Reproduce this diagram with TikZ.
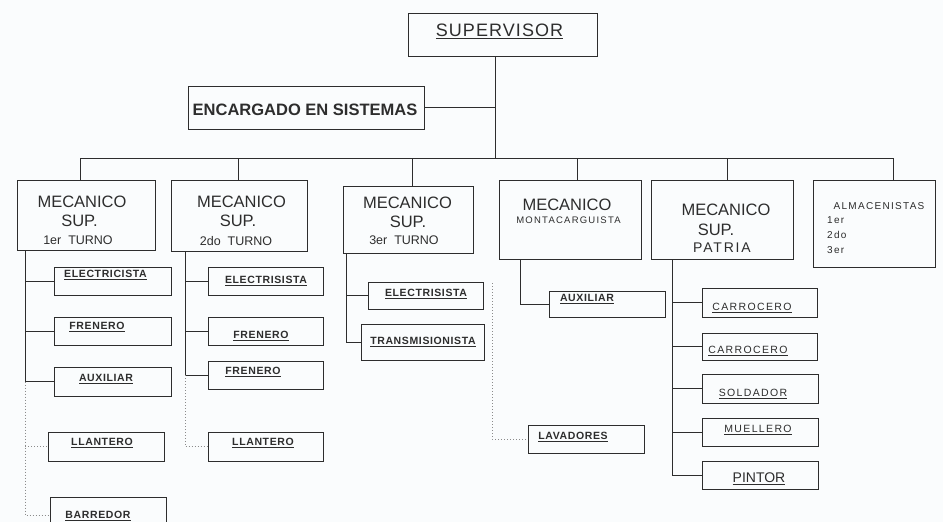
\documentclass[tikz,border=0pt]{standalone}
\usepackage{fontspec}
\setmainfont{Liberation Sans}
\newfontfamily\spfont[LetterSpace=6]{Liberation Sans}
\newfontfamily\widefont[LetterSpace=13]{Liberation Sans}
\newcommand\ulx[1]{\leavevmode\vtop{\hbox{#1}\kern1.6pt\hrule height 0.9pt}}
\definecolor{bg}{RGB}{250,252,253}
\definecolor{ink}{RGB}{45,45,45}
\begin{document}
\begin{tikzpicture}[x=1pt,y=-1pt,
  box/.style={draw=ink, line width=0.9pt, inner sep=0pt, rectangle},
  conn/.style={draw=ink, line width=0.8pt},
  dots/.style={draw=ink!55, line width=0.8pt, dash pattern=on 1pt off 2pt},
  txt/.style={anchor=base, inner sep=0pt, text=ink},
  big/.style={txt, font=\fontsize{16.5}{19}\selectfont},
  lbl/.style={txt, font=\spfont\bfseries\fontsize{10.5}{12}\selectfont},
  lblr/.style={txt, font=\widefont\fontsize{10.5}{12}\selectfont}]
\useasboundingbox (0,0) rectangle (943,522);
\clip (0,0) rectangle (943,522);
\fill[bg] (0,0) rectangle (943,522);

% boxes
\node[box, minimum width=189pt, minimum height=43pt] (sup) at (502.5,34.5) {};
\node[box, minimum width=236pt, minimum height=43pt] (enc) at (306,107.5) {};
\node[box, minimum width=138pt, minimum height=70pt] (m1) at (86,215) {};
\node[box, minimum width=136pt, minimum height=71pt] (m2) at (239,215.5) {};
\node[box, minimum width=130pt, minimum height=67pt] (m3) at (408,219.5) {};
\node[box, minimum width=142pt, minimum height=79pt] (m4) at (570,219.5) {};
\node[box, minimum width=142pt, minimum height=79pt] (m5) at (722,219.5) {};
\node[box, minimum width=122pt, minimum height=87pt] (m6) at (874,223.5) {};
\node[box, minimum width=117pt, minimum height=28pt] (e1) at (112.5,281) {};
\node[box, minimum width=117pt, minimum height=28pt] (f1) at (112.5,331) {};
\node[box, minimum width=117pt, minimum height=29pt] (a1) at (112.5,381.5) {};
\node[box, minimum width=116pt, minimum height=29pt] (l1) at (106,446.5) {};
\node[box, minimum width=116pt, minimum height=36pt] (b1) at (108,515) {};
\node[box, minimum width=115pt, minimum height=28pt] (e2) at (265.5,281) {};
\node[box, minimum width=115pt, minimum height=28pt] (f2) at (265.5,331) {};
\node[box, minimum width=115pt, minimum height=28pt] (g2) at (265.5,375) {};
\node[box, minimum width=115pt, minimum height=29pt] (l2) at (265.5,446.5) {};
\node[box, minimum width=115pt, minimum height=27pt] (e3) at (425.5,295.5) {};
\node[box, minimum width=123pt, minimum height=36pt] (t3) at (422.5,342) {};
\node[box, minimum width=116pt, minimum height=26pt] (a4) at (607,304) {};
\node[box, minimum width=116pt, minimum height=28pt] (v4) at (586,439) {};
\node[box, minimum width=115pt, minimum height=29pt] (c5a) at (759.5,302.5) {};
\node[box, minimum width=115pt, minimum height=27pt] (c5b) at (759.5,346.5) {};
\node[box, minimum width=116pt, minimum height=29pt] (s5) at (760,388.5) {};
\node[box, minimum width=116pt, minimum height=28pt] (mu5) at (760,432) {};
\node[box, minimum width=116pt, minimum height=28pt] (p5) at (760,475) {};

% texts
\node[txt, font=\spfont\fontsize{18}{20}\selectfont] (supt) at (499.5,36.5) {\ulx{SUPERVISOR}};
\node[txt, font=\bfseries\fontsize{16.5}{19}\selectfont] (enct) at (305,115) {ENCARGADO EN SISTEMAS};
\node[big] (m1a) at (82,207) {MECANICO};
\node[big] (m1b) at (79.5,226) {SUP.};
\node[txt, font=\fontsize{12.5}{14}\selectfont] (m1c) at (78,244) {1er\ \ TURNO};
\node[big] (m2a) at (241.5,207) {MECANICO};
\node[big] (m2b) at (238,226) {SUP.};
\node[txt, font=\fontsize{12.5}{14}\selectfont] (m2c) at (236,245) {2do\ \ TURNO};
\node[big] (m3a) at (407.5,208) {MECANICO};
\node[big] (m3b) at (408,227) {SUP.};
\node[txt, font=\fontsize{12.5}{14}\selectfont] (m3c) at (404,244) {3er\ \ TURNO};
\node[big] (m4a) at (567,210) {MECANICO};
\node[txt, font=\widefont\fontsize{9.5}{11}\selectfont] (m4b) at (568.5,223) {MONTACARGUISTA};
\node[big] (m5a) at (726,215) {MECANICO};
\node[big] (m5b) at (716,235) {SUP.};
\node[txt, font=\widefont\fontsize{14}{16}\selectfont] (m5c) at (722,252) {PATRIA};
\node[txt, font=\widefont\fontsize{10}{12}\selectfont] (m6a) at (879,209) {ALMACENISTAS};
\node[txt, anchor=base west, font=\widefont\fontsize{10}{12}\selectfont] (m6b) at (827,223) {1er};
\node[txt, anchor=base west, font=\widefont\fontsize{10}{12}\selectfont] (m6c) at (827,238) {2do};
\node[txt, anchor=base west, font=\widefont\fontsize{10}{12}\selectfont] (m6d) at (827,253) {3er};

\node[lbl] (e1t) at (105.5,277) {\ulx{ELECTRICISTA}};
\node[lbl] (f1t) at (97,329) {\ulx{FRENERO}};
\node[lbl] (a1t) at (106,381) {\ulx{AUXILIAR}};
\node[lbl] (l1t) at (102,445) {\ulx{LLANTERO}};
\node[lbl] (b1t) at (98,518) {\ulx{BARREDOR}};
\node[lbl] (e2t) at (266,283) {\ulx{ELECTRISISTA}};
\node[lbl] (f2t) at (261,338) {\ulx{FRENERO}};
\node[lbl] (g2t) at (253,374) {\ulx{FRENERO}};
\node[lbl] (l2t) at (263,445) {\ulx{LLANTERO}};
\node[lbl] (e3t) at (426,296) {\ulx{ELECTRISISTA}};
\node[lbl] (t3t) at (423,344) {\ulx{TRANSMISIONISTA}};
\node[lbl] (a4t) at (587,301) {\ulx{AUXILIAR}};
\node[lbl] (v4t) at (573,439) {\ulx{LAVADORES}};
\node[lblr] (c5at) at (752,310) {\ulx{CARROCERO}};
\node[lblr] (c5bt) at (748,353) {\ulx{CARROCERO}};
\node[lblr] (s5t) at (753,396) {\ulx{SOLDADOR}};
\node[lblr] (mu5t) at (758,432) {\ulx{MUELLERO}};
\node[txt, font=\fontsize{14}{16}\selectfont] (p5t) at (759,482) {\ulx{PINTOR}};

% top connectors
\coordinate (bj) at (495,158);
\coordinate (bl) at (80,158);
\coordinate (br) at (893,158);
\coordinate (d2) at (238,158);
\coordinate (d3) at (412,158);
\coordinate (d4) at (577,158);
\coordinate (d5) at (727,158);
\draw[conn] (sup.south -| bj) -- (bj);
\draw[conn] (enc.east) -- (enc.east -| bj);
\draw[conn] (bl) -- (br);
\draw[conn] (bl) -- (bl |- m1.north);
\draw[conn] (d2) -- (d2 |- m2.north);
\draw[conn] (d3) -- (d3 |- m3.north);
\draw[conn] (d4) -- (d4 |- m4.north);
\draw[conn] (d5) -- (d5 |- m5.north);
\draw[conn] (br) -- (br |- m6.north);

% column 1
\coordinate (k1) at (25,0);
\draw[conn] (m1.south -| k1) |- (a1.west);
\draw[conn] (k1 |- e1.west) -- (e1.west);
\draw[conn] (k1 |- f1.west) -- (f1.west);
\draw[dots] (k1 |- a1.west) |- (b1.west);
\draw[dots] (k1 |- l1.west) -- (l1.west);
% column 2
\coordinate (k2) at (185,0);
\draw[conn] (m2.south -| k2) |- (g2.west);
\draw[conn] (k2 |- e2.west) -- (e2.west);
\draw[conn] (k2 |- f2.west) -- (f2.west);
\draw[dots] (k2 |- g2.west) |- (l2.west);
% column 3
\coordinate (k3) at (346,0);
\draw[conn] (m3.south -| k3) |- (t3.west);
\draw[conn] (k3 |- e3.west) -- (e3.west);
% column 4
\coordinate (k4) at (520,0);
\draw[conn] (m4.south -| k4) |- (a4.west);
\coordinate (k4d) at (492,283);
\draw[dots] (k4d) |- (v4.west);
% column 5
\coordinate (k5) at (672,0);
\draw[conn] (m5.south -| k5) |- (p5.west);
\draw[conn] (k5 |- c5a.west) -- (c5a.west);
\draw[conn] (k5 |- c5b.west) -- (c5b.west);
\draw[conn] (k5 |- s5.west) -- (s5.west);
\draw[conn] (k5 |- mu5.west) -- (mu5.west);
\end{tikzpicture}
\end{document}
